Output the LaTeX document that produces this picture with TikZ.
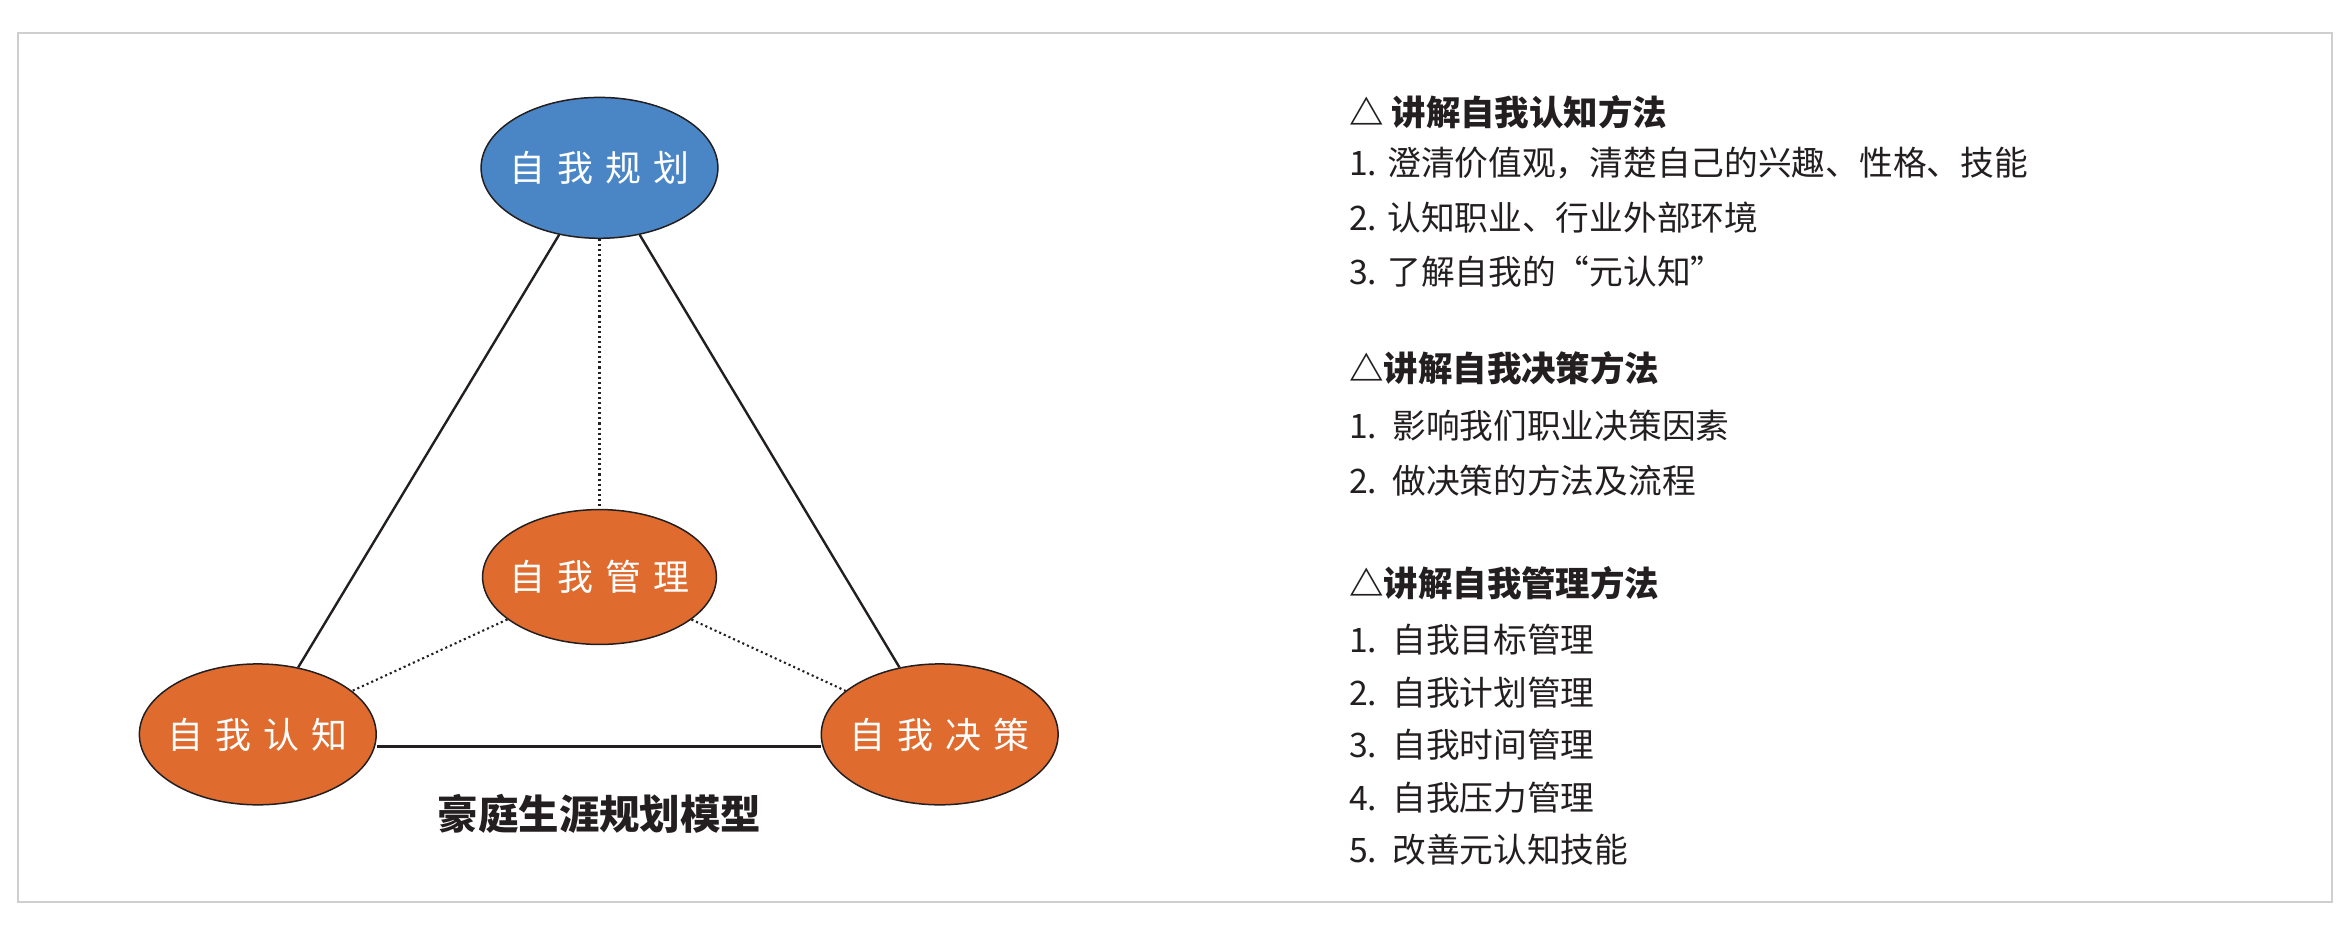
\documentclass[tikz,border=0pt]{standalone}
\usepackage{fontspec}
\setmainfont{Noto Sans CJK SC}
\definecolor{blueC}{HTML}{4A86C6}
\definecolor{orangeC}{HTML}{DF6B2F}
\definecolor{frameC}{HTML}{CFCFCF}
\definecolor{txt}{HTML}{231F20}
\begin{document}
\begin{tikzpicture}[x=1pt,y=-1pt,
  ell/.style={ellipse,draw=txt,line width=1pt,minimum width=158pt,minimum height=94pt,inner sep=0pt},
  elltxt/.style={label={[text=white,font=\fontsize{24}{28}\selectfont]center:#1}},
  solidl/.style={line width=1.6pt,txt},
  dotl/.style={line width=1.4pt,txt,dotted},
  item/.style={anchor=west,text=txt,font=\fontsize{22.5}{25}\selectfont,inner sep=0pt},
  head/.style={anchor=west,text=txt,font=\fontsize{23}{26}\selectfont\bfseries,inner sep=0pt}]
\usetikzlibrary{shapes.geometric}
\useasboundingbox (0,0) rectangle (1568,626);
\draw[frameC,line width=1pt] (12,22) rectangle (1556,602);
\node[ell,fill=blueC,elltxt={自\,\,我\,\,规\,\,划}] (top) at (400,112) {};
\node[ell,fill=orangeC,minimum width=156pt,minimum height=90pt,elltxt={自\,\,我\,\,管\,\,理}] (mid) at (400,385) {};
\node[ell,fill=orangeC,elltxt={自\,\,我\,\,认\,\,知}] (left) at (172,490) {};
\node[ell,fill=orangeC,elltxt={自\,\,我\,\,决\,\,策}] (right) at (627,490) {};
\draw[solidl] (top) -- (left);
\draw[solidl] (top) -- (right);
\draw[solidl] (left.east |- 0,498) -- (right.west |- 0,498);
\draw[dotl] (top) -- (mid);
\draw[dotl] (mid) -- (left);
\draw[dotl] (mid) -- (right);
\node[text=txt,font=\fontsize{27}{30}\selectfont\bfseries] (cap) at (400,543) {豪庭生涯规划模型};
\node[head] (h1) at (900,75) {△ 讲解自我认知方法};
\node[item] (a1) at (900,109) {1. 澄清价值观，清楚自己的兴趣、性格、技能};
\node[item] (a2) at (900,145) {2. 认知职业、行业外部环境};
\node[item] (a3) at (900,181) {3. 了解自我的“元认知”};
\node[head] (h2) at (900,246) {△讲解自我决策方法};
\node[item] (b1) at (900,284) {1.\ \ 影响我们职业决策因素};
\node[item] (b2) at (900,321) {2.\ \ 做决策的方法及流程};
\node[head] (h3) at (900,389) {△讲解自我管理方法};
\node[item] (c1) at (900,427) {1.\ \ 自我目标管理};
\node[item] (c2) at (900,462) {2.\ \ 自我计划管理};
\node[item] (c3) at (900,497) {3.\ \ 自我时间管理};
\node[item] (c4) at (900,532) {4.\ \ 自我压力管理};
\node[item] (c5) at (900,567) {5.\ \ 改善元认知技能};
\end{tikzpicture}
\end{document}
